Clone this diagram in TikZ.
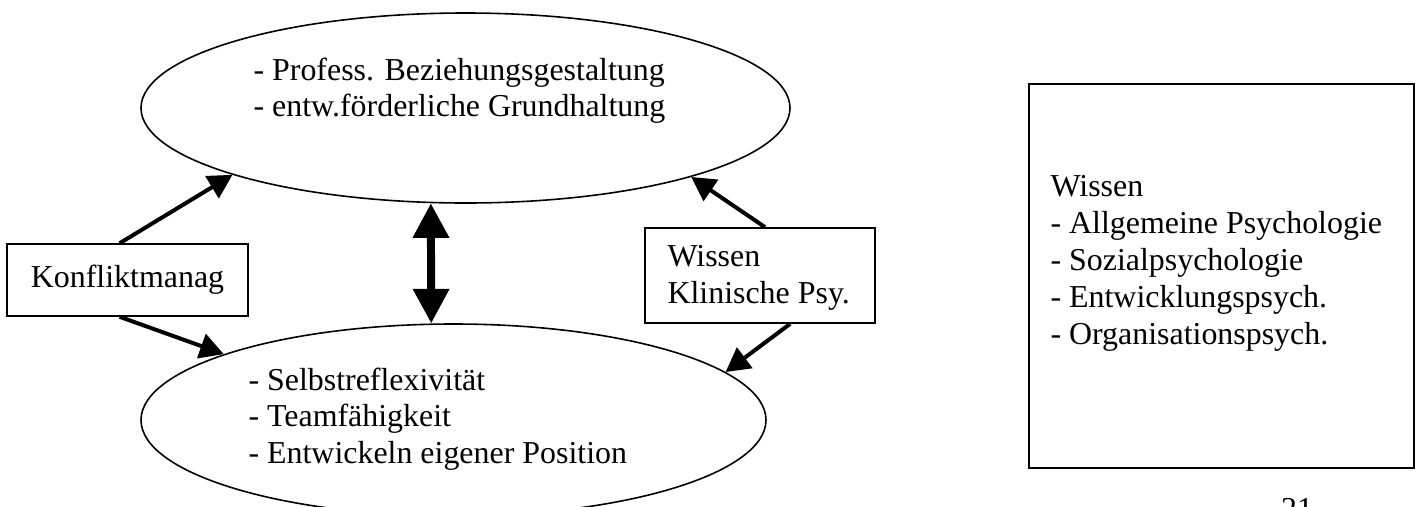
\documentclass[tikz,border=0pt]{standalone}
\usepackage{fontspec}
\setmainfont{Liberation Serif}
\usepackage{tikz}
\usetikzlibrary{arrows.meta,shapes.geometric}
\newcommand{\px}{0.376pt}
\tikzset{
  kreis/.style       = {ellipse, draw=black, line width=0.6pt, inner sep=0pt},
  kasten/.style      = {rectangle, draw=black, line width=0.6pt, inner sep=0pt},
  liste/.style       = {align=left, inner sep=0pt, anchor=north west},
  pfeil/.style       = {-{Triangle[length=9pt,width=9.5pt]}, line width=1.5pt},
  doppelpfeil/.style = {{Triangle[length=13pt,width=13pt]}-{Triangle[length=13pt,width=13pt]}, line width=3pt}
}

\begin{document}
\begin{tikzpicture}[
    % pixel grid of the page, y pointing down
    x=\px, y=-\px,
    font=\fontsize{12}{13.9}\selectfont
  ]
    \useasboundingbox (0,0) rectangle (1421,506);

    % Ellipses
    \node[kreis, minimum width=649*\px, minimum height=190*\px] (beziehung) at (465.5,108) {};
    \node[liste] (beziehungtext) at (253,57) {- Profess. Beziehungsgestaltung\\- entw.förderliche Grundhaltung};
    \node[kreis, minimum width=625*\px, minimum height=192*\px] (selbst) at (453.5,420) {};
    \node[liste] (selbsttext) at (248,367) {- Selbstreflexivität\\- Teamfähigkeit\\- Entwickeln eigener Position};

    % Boxes
    \node[kasten, minimum width=241*\px, minimum height=72*\px] (konflikt) at (127.5,280) {Konfliktmanag};
    \node[kasten, minimum width=230*\px, minimum height=95*\px] (klinisch) at (760,275.5) {};
    \node[liste] (klinischtext) at (667,245) {Wissen\\Klinische Psy.};
    \node[kasten, minimum width=385*\px, minimum height=384*\px] (wissen) at (1221.5,276) {};
    \node[liste] (wissentext) at (1050,175) {Wissen\\- Allgemeine Psychologie\\- Sozialpsychologie\\- Entwicklungspsych.\\- Organisationspsych.};

    % Connections
    \draw[pfeil] (konflikt.102) -- (beziehung.-164.6);
    \draw[pfeil] (konflikt.-102) -- (selbst.164.5);
    \draw[doppelpfeil] (beziehung.-110.5) -- (selbst.103.8);
    \draw[pfeil] (klinisch.84) -- (beziehung.-17.6);
    \draw[pfeil] (klinisch.-58.6) -- (selbst.10.2);

    % page number
    \node[anchor=base, inner sep=0pt] (seite) at (1297,519) {21};
  \end{tikzpicture}
\end{document}
